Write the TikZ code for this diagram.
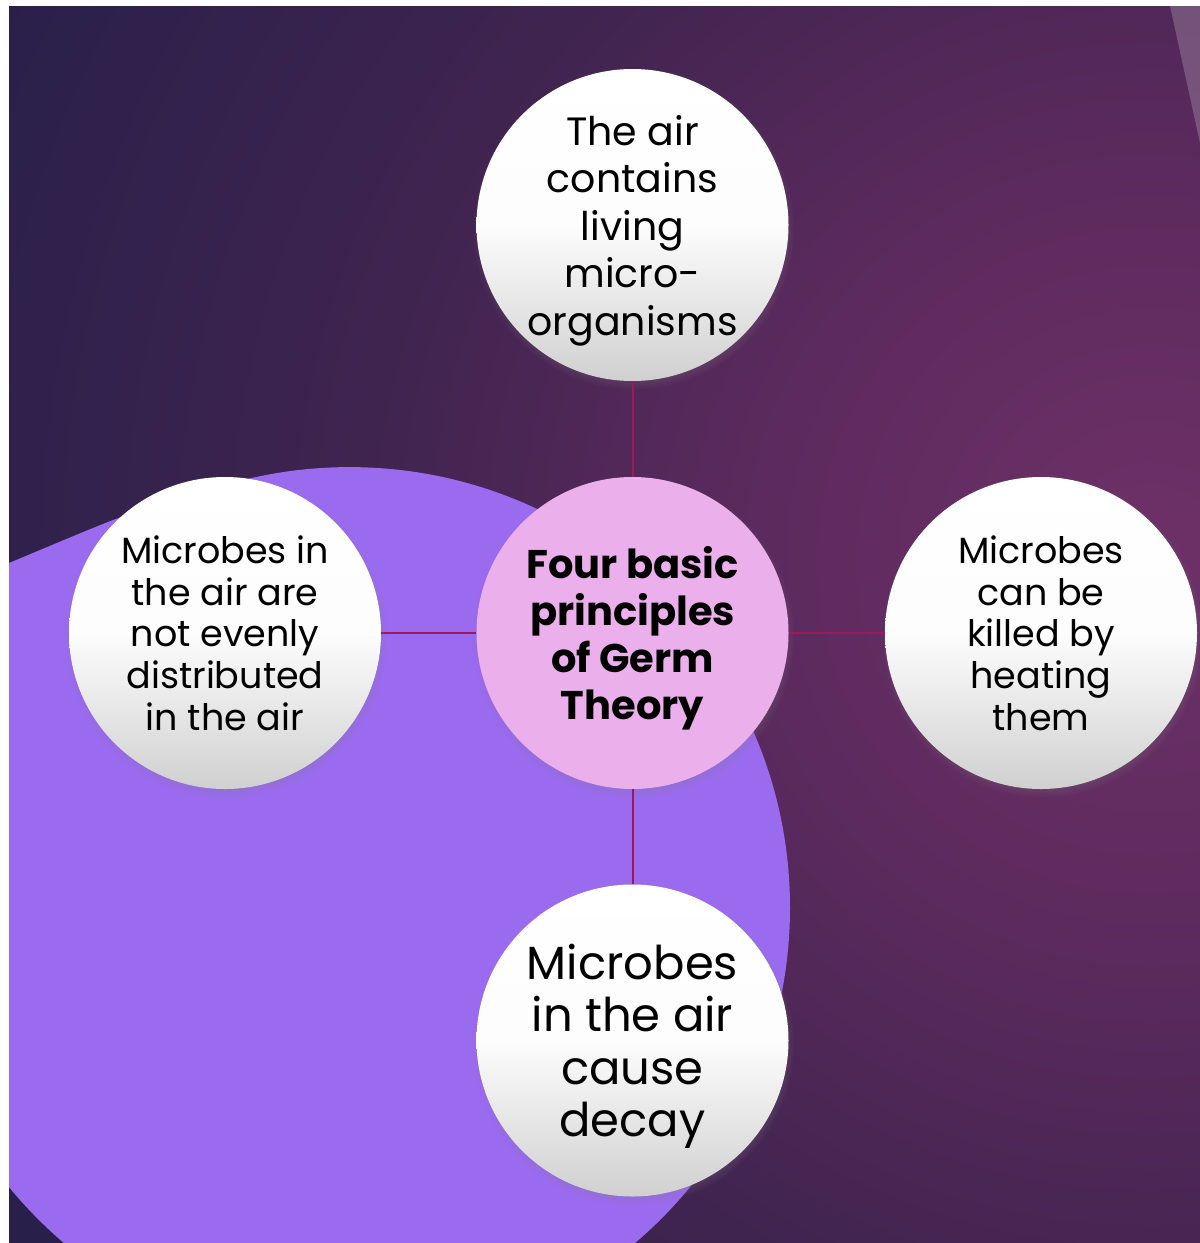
\documentclass[tikz,border=0pt]{standalone}
\usepackage{fontspec}
\newfontfamily\pop{Poppins}
\usetikzlibrary{shadows}
\definecolor{bgdark}{HTML}{28204A}
\definecolor{glowc}{HTML}{6E3168}
\definecolor{glowb}{HTML}{5C2A5E}
\definecolor{glowc3}{HTML}{402450}
\definecolor{violetshape}{HTML}{9A6AEF}
\definecolor{pinkc}{HTML}{EBAFEB}
\definecolor{linkc}{HTML}{A0185A}
\definecolor{grayb}{HTML}{D0D0D0}
\pgfdeclareradialshading{bgglow}{\pgfpointorigin}{color(0bp)=(glowc); color(7bp)=(glowb); color(14bp)=(glowc3); color(23bp)=(bgdark); color(50bp)=(bgdark)}
\tikzset{
  shadowed/.style={circular drop shadow={shadow xshift=1pt, shadow yshift=-4pt, shadow scale=1.03, opacity=0.55}},
  bubble/.style={circle, minimum size=312pt, inner sep=-40pt, align=center, text=black,
     text depth=0pt, top color=white, bottom color=grayb, middle color=white!95!grayb, shadowed},
  hub/.style={circle, minimum size=312pt, inner sep=-40pt, align=center, text=black,
     text depth=0pt, fill=pinkc, shadowed, font=\pop\bfseries\fontsize{40}{47}\selectfont},
  link/.style={draw=linkc, line width=2pt},
}
\begin{document}
\begin{tikzpicture}[x=1pt, y=-1pt]
\useasboundingbox (0,0) rectangle (1200,1243);
\fill[white] (0,0) rectangle (1200,1243);
\begin{scope}
  \clip (9,6) rectangle (1200,1243);
  \fill[bgdark] (9,6) rectangle (1200,1243);
  \shade[shading=bgglow] (1150,560) circle[radius=1400pt];
  \fill[white, opacity=0.2] (1170,6) -- (1200,6) -- (1200,143) -- cycle;
  \fill[violetshape] (349.5,907.6) circle[radius=440.5pt];
  \fill[violetshape] (0,567) -- (9,563) .. controls (45,548) and (80,533) .. (113,520)
        .. controls (150,506) and (190,493) .. (235,484) -- (235,700) -- (0,700) -- cycle;
\end{scope}

\node[hub] (hub) at (632.5,633) {Four basic\\principles\\of Germ\\Theory};
\node[bubble, font=\pop\fontsize{39.5}{47.5}\selectfont] (top) at (632.5,225)
  {The air\\contains\\living\\micro-\\organisms};
\node[bubble, font=\pop\fontsize{36.5}{41.7}\selectfont] (left) at (225,633)
  {Microbes in\\the air are\\not evenly\\distributed\\in the air};
\node[bubble, font=\pop\fontsize{36.5}{41.7}\selectfont] (right) at (1041,633)
  {Microbes\\can be\\killed by\\heating\\them};
\node[bubble, font=\pop\fontsize{46.5}{52.5}\selectfont] (bottom) at (632.5,1040.5)
  {Microbes\\in the air\\cause\\decay};

\draw[link] (top) -- (hub);
\draw[link] (left) -- (hub);
\draw[link] (hub) -- (right);
\draw[link] (hub) -- (bottom);
\end{tikzpicture}
\end{document}
